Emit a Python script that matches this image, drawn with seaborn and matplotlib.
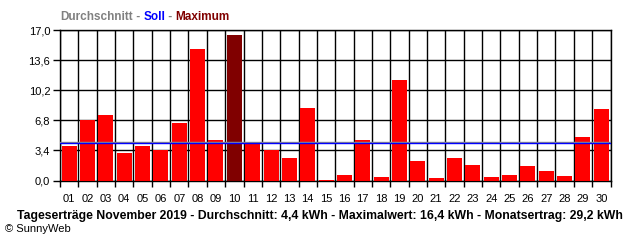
import matplotlib
matplotlib.use("Agg")
import matplotlib.pyplot as plt
import seaborn as sns
import pandas as pd
import numpy as np
from matplotlib.ticker import FixedLocator, FuncFormatter

days = [f"{d:02d}" for d in range(1, 31)]
values = [3.9, 6.8, 7.4, 3.1, 3.9, 3.5, 6.5, 14.9, 4.6, 16.4,
          4.3, 3.4, 2.5, 8.2, 0.1, 0.6, 4.6, 0.4, 11.4, 2.2,
          0.3, 2.5, 1.8, 0.4, 0.6, 1.6, 1.1, 0.5, 4.9, 8.1]
average = 4.35
soll = 4.2
y_ticks = [0.0, 3.4, 6.8, 10.2, 13.6, 17.0]
footer = "Tageserträge November 2019 - Durchschnitt: 4,4 kWh - Maximalwert: 16,4 kWh - Monatsertrag: 29,2 kWh"

sns.set_theme(style="white")
plt.rcParams['font.family'] = ['Liberation Sans', 'DejaVu Sans']

df = pd.DataFrame({"day": days, "value": values})
maxv = max(values)
df["kind"] = ["max" if v == maxv else "normal" for v in values]

W, H = 640, 240
fig = plt.figure(figsize=(W / 100, H / 100), dpi=100)
fig.patch.set_facecolor("white")
left, right, top, bottom = 60, 610.5, 30, 180.5
ax = fig.add_axes([left / W, 1 - bottom / H, (right - left) / W, (bottom - top) / H])

sns.barplot(data=df, x="day", y="value", hue="kind",
            palette={"normal": "#FF0000", "max": "#800000"},
            dodge=False, width=0.82, legend=False, saturation=1,
            edgecolor="none", linewidth=0, ax=ax, zorder=3)

ax.axhline(average, color="#8c8c8c", lw=1.0, zorder=5)
ax.axhline(soll, color="#0000FF", lw=1.0, zorder=5)

ax.set_xlim(-0.5, 29.5)
ax.set_ylim(0, 17)
ax.set_xlabel("")
ax.set_ylabel("")

ax.yaxis.set_major_locator(FixedLocator(y_ticks))
ax.yaxis.set_major_formatter(FuncFormatter(lambda v, p: f"{v:.1f}".replace(".", ",")))
ax.xaxis.set_minor_locator(FixedLocator(np.arange(-0.5, 30, 1.0)))

ax.grid(True, axis="y", which="major", color="black", lw=1.0, zorder=1)
ax.grid(True, axis="x", which="minor", color="black", lw=1.0, zorder=1)
ax.grid(False, axis="x", which="major")
ax.set_axisbelow(True)

for s in ax.spines.values():
    s.set_color("black")
    s.set_linewidth(1.0)

ax.tick_params(axis="x", which="major", length=0, labelsize=8, pad=10, colors="black")
ax.tick_params(axis="x", which="minor", length=4, width=1.0, color="black", bottom=True)
ax.tick_params(axis="y", which="major", length=5, width=1.0, color="black", left=True,
               labelsize=8, pad=2, labelcolor="black")

# Title with coloured parts
parts = [("Durchschnitt", "#808080"), (" - ", "#808080"), ("Soll", "#0000FF"),
         (" - ", "#808080"), ("Maximum", "#800000")]
fig.canvas.draw()
renderer = fig.canvas.get_renderer()
x = 60 / W
for txt, col in parts:
    t = fig.text(x, 1 - 17 / H, txt, color=col, fontsize=8.5, fontweight="bold",
                 ha="left", va="center")
    bb = t.get_window_extent(renderer=renderer)
    x += bb.width / W

fig.text(320 / W, 1 - 216 / H, footer, fontsize=8.8, fontweight="bold",
         ha="center", va="center", color="black")
fig.text(5 / W, 1 - 229 / H, "© SunnyWeb", fontsize=8, ha="left", va="center",
         color="black")

fig.savefig("out.png", dpi=100)
